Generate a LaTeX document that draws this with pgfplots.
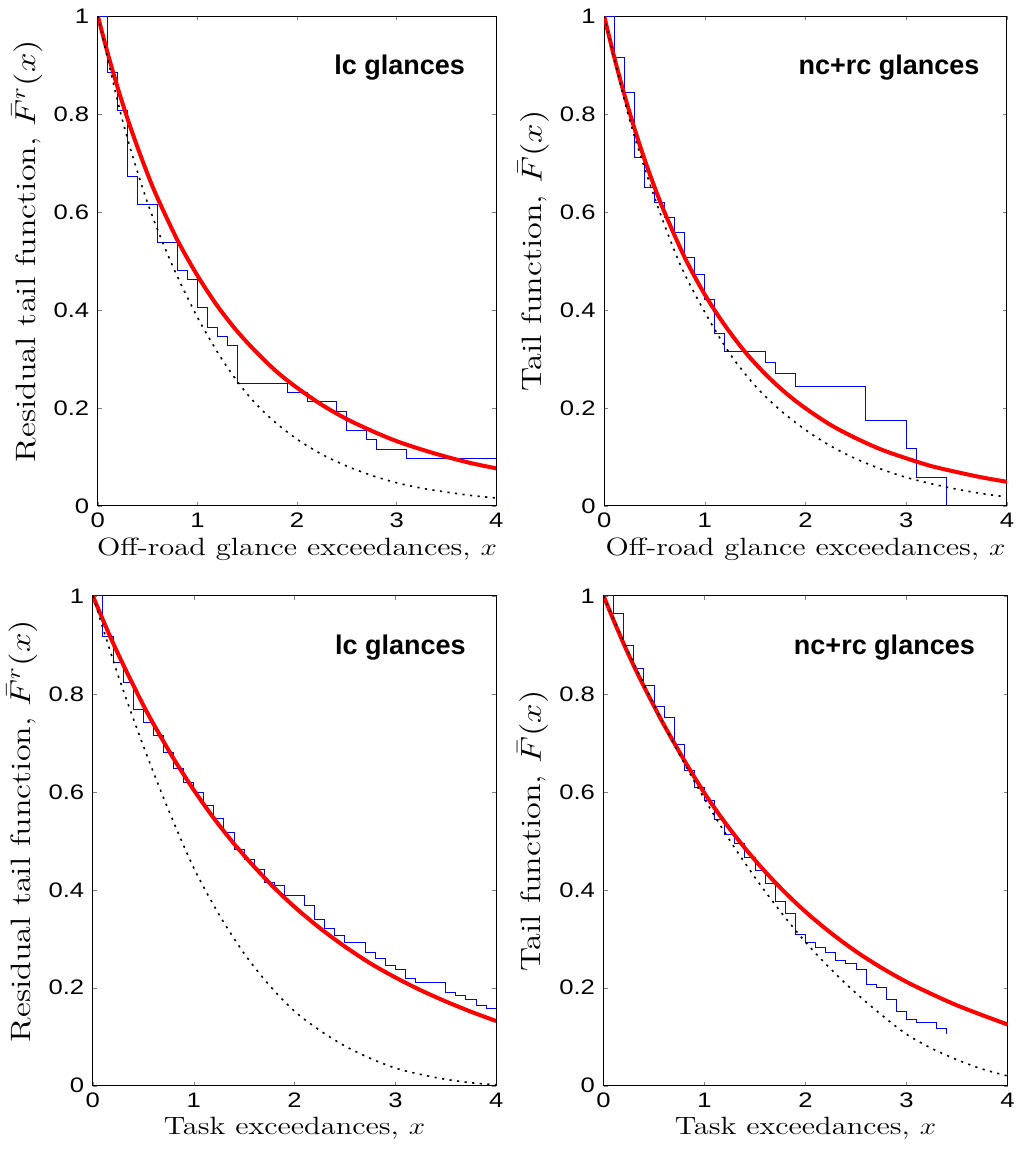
\documentclass[border=0pt]{standalone}
\usepackage{fontspec}
\usepackage{pgfplots}
\pgfplotsset{compat=1.18}
\newfontfamily\hv{Liberation Sans}

\pgfplotsset{
  panel/.style={
    scale only axis,
    anchor=south west,
    height=244.9pt,
    xmin=0, xmax=4, ymin=0, ymax=1,
    xtick={0,1,2,3,4},
    ytick={0,0.2,0.4,0.6,0.8,1},
    major tick length=2pt,
    tick align=inside,
    axis line style={line width=0.5pt},
    /pgf/number format/assume math mode=true,
    ticklabel style={font=\hv\fontsize{10.5}{12}\selectfont, xscale=1.22},
    xlabel style={font=\fontsize{12.5}{14}\selectfont, xscale=1.22, yshift=2pt},
    ylabel style={font=\fontsize{14}{16}\selectfont, xscale=1.22, yshift=-2pt, xshift=4pt},
  },
  emp/.style={blue, line width=0.5pt, const plot mark left, no marks},
  fit/.style={red, line width=2pt, smooth, no marks},
  ref/.style={black, line width=0.8pt, dash pattern=on 1.1pt off 2.7pt, smooth, no marks},
}
\newcommand{\paneltitle}[2]{\node[anchor=east, inner sep=0pt, font=\hv\bfseries\fontsize{13.5}{15}\selectfont] at (axis cs:#1,0.895) {#2};}

\begin{document}
\begin{tikzpicture}
\path (0,0) rectangle (505.5pt,-575.5pt);

% top left
\begin{axis}[panel, at={(48pt,-252.9pt)}, width=199.2pt,
  xlabel={Off-road glance exceedances, $x$},
  ylabel={Residual tail function, $\bar{F}^r(x)$}]
\addplot[emp] coordinates {
 (0,1) (0.1,0.885) (0.2,0.808) (0.3,0.673) (0.4,0.615) (0.6,0.538)
 (0.8,0.481) (0.9,0.462) (1.0,0.404) (1.1,0.365) (1.2,0.346) (1.3,0.327)
 (1.4,0.250) (1.9,0.231) (2.1,0.212) (2.4,0.192) (2.5,0.154) (2.7,0.135)
 (2.8,0.115) (3.1,0.096) (4.0,0)};
\addplot[fit] coordinates {
 (0,1) (0.1,0.923) (0.2,0.853) (0.3,0.789) (0.4,0.731) (0.5,0.677) (0.6,0.628)
 (0.8,0.542) (1.0,0.470) (1.2,0.408) (1.4,0.356) (1.6,0.312) (1.8,0.273)
 (2.0,0.241) (2.25,0.206) (2.5,0.177) (2.75,0.153) (3.0,0.132) (3.25,0.115)
 (3.5,0.100) (3.75,0.087) (4.0,0.0765)};
\addplot[ref] coordinates {
 (0,1) (0.25,0.785) (0.5,0.618) (0.75,0.490) (1.0,0.385) (1.25,0.298)
 (1.5,0.228) (1.75,0.176) (2.0,0.136) (2.25,0.105) (2.5,0.081) (2.75,0.062)
 (3.0,0.047) (3.25,0.036) (3.5,0.028) (3.75,0.021) (4.0,0.016)};
\paneltitle{3.69}{lc glances}
\end{axis}

% top right
\begin{axis}[panel, at={(301.15pt,-252.9pt)}, width=201.4pt,
  xlabel={Off-road glance exceedances, $x$},
  ylabel={Tail function, $\bar{F}(x)$}]
\addplot[emp] coordinates {
 (0,1) (0.1,0.916) (0.2,0.843) (0.3,0.711) (0.4,0.650) (0.5,0.620)
 (0.6,0.589) (0.7,0.557) (0.8,0.506) (0.9,0.473) (1.0,0.422) (1.1,0.352)
 (1.2,0.316) (1.6,0.292) (1.7,0.270) (1.9,0.244) (2.6,0.174) (3.0,0.116)
 (3.1,0.058) (3.4,0)};
\addplot[fit] coordinates {
 (0,1) (0.1,0.916) (0.2,0.840) (0.3,0.771) (0.4,0.708) (0.5,0.651) (0.6,0.599)
 (0.8,0.507) (1.0,0.431) (1.2,0.368) (1.4,0.314) (1.6,0.269) (1.8,0.231)
 (2.0,0.199) (2.25,0.165) (2.5,0.138) (2.75,0.115) (3.0,0.097) (3.25,0.081)
 (3.5,0.069) (3.75,0.058) (4.0,0.049)};
\addplot[ref] coordinates {
 (0,1) (0.25,0.790) (0.5,0.630) (0.75,0.495) (1.0,0.395) (1.25,0.310)
 (1.5,0.245) (1.75,0.195) (2.0,0.155) (2.25,0.122) (2.5,0.096) (2.75,0.075)
 (3.0,0.058) (3.25,0.045) (3.5,0.034) (3.75,0.025) (4.0,0.018)};
\paneltitle{3.73}{nc+rc glances}
\end{axis}

% bottom left
\begin{axis}[panel, at={(45.5pt,-542.85pt)}, width=201.7pt,
  xlabel={Task exceedances, $x$},
  ylabel={Residual tail function, $\bar{F}^r(x)$}]
\addplot[emp] coordinates {
 (0,1) (0.1,0.918) (0.2,0.865) (0.3,0.824) (0.4,0.769) (0.5,0.742)
 (0.6,0.715) (0.7,0.681) (0.8,0.647) (0.9,0.620) (1.0,0.599) (1.1,0.572)
 (1.2,0.545) (1.3,0.517) (1.4,0.483) (1.5,0.462) (1.6,0.442) (1.7,0.415)
 (1.8,0.408) (1.9,0.388) (2.1,0.368) (2.2,0.340) (2.3,0.320) (2.4,0.306)
 (2.5,0.293) (2.7,0.272) (2.8,0.259) (2.9,0.245) (3.0,0.238) (3.1,0.218)
 (3.2,0.211) (3.5,0.191) (3.6,0.184) (3.7,0.177) (3.8,0.163) (3.9,0.157)
 (4.0,0)};
\addplot[fit] coordinates {
 (0,1) (0.1,0.951) (0.2,0.904) (0.3,0.860) (0.4,0.818) (0.5,0.777) (0.6,0.739)
 (0.8,0.668) (1.0,0.604) (1.2,0.546) (1.4,0.494) (1.6,0.447) (1.8,0.404)
 (2.0,0.365) (2.25,0.322) (2.5,0.284) (2.75,0.250) (3.0,0.221) (3.25,0.195)
 (3.5,0.172) (3.75,0.151) (4.0,0.132)};
\addplot[ref] coordinates {
 (0,1) (0.25,0.838) (0.5,0.694) (0.75,0.563) (1.0,0.445) (1.25,0.350)
 (1.5,0.270) (1.75,0.205) (2.0,0.152) (2.25,0.113) (2.5,0.081) (2.75,0.056)
 (3.0,0.036) (3.25,0.023) (3.5,0.013) (3.75,0.006) (4.0,0.002)};
\paneltitle{3.70}{lc glances}
\end{axis}

% bottom right
\begin{axis}[panel, at={(300.85pt,-542.85pt)}, width=202pt,
  xlabel={Task exceedances, $x$},
  ylabel={Tail function, $\bar{F}(x)$}]
\addplot[emp] coordinates {
 (0,1) (0.1,0.965) (0.2,0.898) (0.3,0.852) (0.4,0.818) (0.5,0.775)
 (0.6,0.752) (0.7,0.696) (0.8,0.643) (0.9,0.609) (1.0,0.583) (1.1,0.544)
 (1.2,0.512) (1.3,0.494) (1.4,0.465) (1.5,0.440) (1.6,0.412) (1.7,0.377)
 (1.8,0.351) (1.9,0.308) (2.0,0.293) (2.1,0.282) (2.2,0.272) (2.3,0.255)
 (2.4,0.249) (2.5,0.238) (2.6,0.206) (2.7,0.200) (2.8,0.176) (2.9,0.152)
 (3.0,0.136) (3.1,0.129) (3.3,0.116) (3.4,0.106)};
\addplot[fit] coordinates {
 (0,1) (0.1,0.950) (0.2,0.902) (0.3,0.857) (0.4,0.815) (0.5,0.775) (0.6,0.736)
 (0.8,0.664) (1.0,0.597) (1.2,0.538) (1.4,0.485) (1.6,0.437) (1.8,0.394)
 (2.0,0.355) (2.25,0.312) (2.5,0.274) (2.75,0.241) (3.0,0.212) (3.25,0.187)
 (3.5,0.164) (3.75,0.144) (4.0,0.125)};
\addplot[ref] coordinates {
 (0,1) (0.25,0.884) (0.5,0.777) (0.75,0.677) (1.0,0.585) (1.25,0.501)
 (1.5,0.425) (1.75,0.356) (2.0,0.293) (2.25,0.238) (2.5,0.189) (2.75,0.145)
 (3.0,0.105) (3.25,0.076) (3.5,0.053) (3.75,0.034) (4.0,0.020)};
\paneltitle{3.68}{nc+rc glances}
\end{axis}
\end{tikzpicture}
\end{document}
